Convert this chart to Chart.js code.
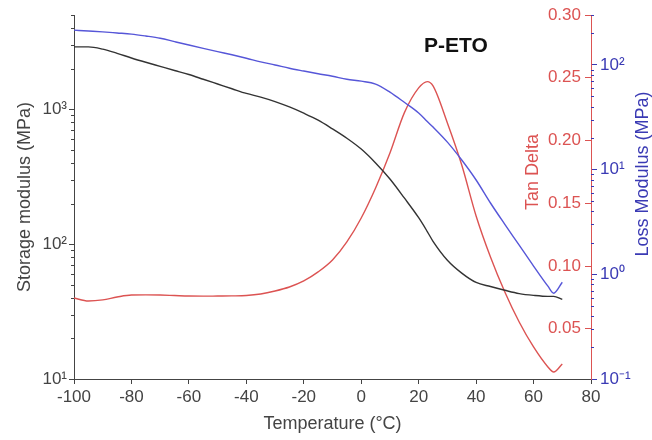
<!DOCTYPE html>
<html>
<head>
<meta charset="utf-8">
<script src="https://cdn.jsdelivr.net/npm/chart.js@4.4.1/dist/chart.umd.min.js"></script>
<style>
  html, body { margin: 0; padding: 0; background: #fff; }
  #wrap { width: 652px; height: 440px; }
</style>
</head>
<body>
<div id="wrap"><canvas id="chart"></canvas></div>
<script>
// temperatures (°C) shared by the three curves
const temps = [-100, -95, -90, -85, -80, -75, -70, -65, -60, -55, -50, -45, -40, -35, -30, -25, -20, -15, -10, -5,
  0, 5, 10, 15, 20, 23, 25, 30, 35, 40, 45, 50, 55, 60, 65, 67, 70];

// storage modulus (MPa), left log axis
const storage = [2900, 2900, 2790, 2600, 2400, 2230, 2080, 1940, 1810, 1670, 1540, 1420, 1310, 1230, 1140, 1040, 935, 830, 715, 610,
  507, 400, 304, 220, 157, 124, 105, 76, 61, 52, 48.5, 45.5, 43, 41.7, 41, 41, 38.9];

// loss modulus (MPa), right log axis
const loss = [215, 211, 207, 202, 197, 189, 180, 167, 155, 144, 134, 125, 116, 107, 100, 93, 87.5, 82.5, 78, 73,
  70, 65.7, 55, 44, 34.8, 28.8, 25.5, 18.3, 12.35, 7.96, 4.8, 3.0, 1.9, 1.2, 0.77, 0.66, 0.84];

// tan delta, right linear axis
const tanDelta = [0.0745, 0.0721, 0.073, 0.0753, 0.0769, 0.077, 0.0769, 0.0765, 0.0761, 0.076, 0.0761, 0.0762, 0.0765, 0.0777, 0.0801, 0.0833, 0.0881, 0.0953, 0.1048, 0.1192,
  0.1383, 0.1622, 0.190, 0.222, 0.2419, 0.2469, 0.2435, 0.214, 0.1805, 0.1399, 0.1072, 0.0793, 0.0554, 0.0355, 0.0196, 0.0156, 0.022];

// ticks
const tempTicks = [-100, -80, -60, -40, -20, 0, 20, 40, 60, 80];
const storageMajor = [10, 100, 1000];
const storageMinor = [20, 30, 40, 50, 60, 70, 80, 90, 200, 300, 400, 500, 600, 700, 800, 900, 2000, 3000, 4000, 5000];
const lossMajor = [0.1, 1, 10, 100];
const lossMinor = [0.2, 0.3, 0.4, 0.5, 0.6, 0.7, 0.8, 0.9, 2, 3, 4, 5, 6, 7, 8, 9, 20, 30, 40, 50, 60, 70, 80, 90, 200, 300];
const tanTicks = [0.05, 0.10, 0.15, 0.20, 0.25, 0.30];
const powerLabels = { 0.1: '10⁻¹', 1: '10⁰', 10: '10¹', 100: '10²', 1000: '10³' };

const RED = '#dc5352';
const BLUE = '#5656d8';
const BLUE_TEXT = '#3a3ab4';
const DARK = '#444';
const FONT = "'Liberation Sans', Arial, sans-serif";

Chart.defaults.font.family = FONT;
Chart.defaults.font.size = 17;
Chart.defaults.color = DARK;

const pts = vals => temps.map((t, i) => ({ x: t, y: vals[i] }));

// minor ticks, right-axis titles and the P-ETO label
const extras = {
  id: 'extras',
  afterDraw(chart) {
    const ctx = chart.ctx;
    const area = chart.chartArea;
    const yS = chart.scales.y;
    const yL = chart.scales.y2;
    ctx.save();
    ctx.lineWidth = 1;
    ctx.strokeStyle = DARK;
    ctx.beginPath();
    storageMinor.forEach(v => {
      const py = Math.round(yS.getPixelForValue(v)) + 0.5;
      ctx.moveTo(area.left - 3, py);
      ctx.lineTo(area.left, py);
    });
    ctx.stroke();
    ctx.strokeStyle = BLUE_TEXT;
    ctx.beginPath();
    lossMinor.forEach(v => {
      const py = Math.round(yL.getPixelForValue(v)) + 0.5;
      ctx.moveTo(area.right, py);
      ctx.lineTo(area.right + 3, py);
    });
    ctx.stroke();

    ctx.textAlign = 'center';
    ctx.textBaseline = 'middle';
    ctx.font = '18px ' + FONT;
    ctx.fillStyle = RED;
    ctx.save();
    ctx.translate(area.right - 58, 172);
    ctx.rotate(-Math.PI / 2);
    ctx.fillText('Tan Delta', 0, 0);
    ctx.restore();
    ctx.fillStyle = BLUE_TEXT;
    ctx.save();
    ctx.translate(area.right + 52, 174);
    ctx.rotate(-Math.PI / 2);
    ctx.fillText('Loss Modulus (MPa)', 0, 0);
    ctx.restore();

    ctx.fillStyle = '#111';
    ctx.font = 'bold 21px ' + FONT;
    ctx.fillText('P-ETO', 456, 46);
    ctx.restore();
  }
};

new Chart(document.getElementById('chart'), {
  type: 'line',
  data: {
    datasets: [
      { label: 'Storage modulus', data: pts(storage), yAxisID: 'y', borderColor: '#333', borderWidth: 1.4 },
      { label: 'Loss modulus', data: pts(loss), yAxisID: 'y2', borderColor: BLUE, borderWidth: 1.4 },
      { label: 'Tan delta', data: pts(tanDelta), yAxisID: 'y1', borderColor: RED, borderWidth: 1.4 },
    ],
  },
  options: {
    responsive: true,
    maintainAspectRatio: false,
    animation: false,
    layout: { padding: { top: 15, left: 0, right: 0, bottom: 0 } },
    elements: {
      point: { radius: 0 },
      line: { cubicInterpolationMode: 'monotone', fill: false },
    },
    plugins: { legend: { display: false }, tooltip: { enabled: false } },
    scales: {
      x: {
        type: 'linear',
        min: -100,
        max: 80,
        afterBuildTicks: s => { s.ticks = tempTicks.map(v => ({ value: v })); },
        afterFit: s => { s.height = 61; },
        grid: { drawOnChartArea: false, tickLength: 5, color: DARK },
        border: { color: DARK },
        ticks: { padding: 3, color: DARK },
        title: { display: true, text: 'Temperature (°C)', color: DARK, font: { size: 18 }, padding: { top: 0, bottom: 5 } },
      },
      y: {
        type: 'logarithmic',
        position: 'left',
        min: 10,
        max: 5000,
        afterBuildTicks: s => { s.ticks = storageMajor.map(v => ({ value: v })); },
        afterFit: s => { s.width = 74; },
        grid: { drawOnChartArea: false, tickLength: 5, color: DARK },
        border: { color: DARK },
        ticks: { padding: 2, color: DARK, callback: v => powerLabels[v] || '' },
        title: { display: true, text: 'Storage modulus (MPa)', color: DARK, font: { size: 18 }, padding: { top: 14, bottom: 0 } },
      },
      y1: {
        type: 'linear',
        position: 'right',
        min: 0.01,
        max: 0.30,
        afterBuildTicks: s => { s.ticks = tanTicks.map(v => ({ value: v })); },
        afterFit: s => { s.width = 0; },
        grid: { drawOnChartArea: false, tickLength: -6, color: RED },
        border: { color: RED },
        ticks: { mirror: true, padding: -10, color: RED, callback: v => v.toFixed(2) },
      },
      y2: {
        type: 'logarithmic',
        position: 'right',
        min: 0.1,
        max: 300,
        afterBuildTicks: s => { s.ticks = lossMajor.map(v => ({ value: v })); },
        afterFit: s => { s.width = 61; },
        grid: { drawOnChartArea: false, tickLength: 6, color: BLUE_TEXT },
        border: { display: false },
        ticks: { padding: 3, color: BLUE_TEXT, callback: v => powerLabels[v] || '' },
      },
    },
  },
  plugins: [extras],
});
</script>
</body>
</html>
